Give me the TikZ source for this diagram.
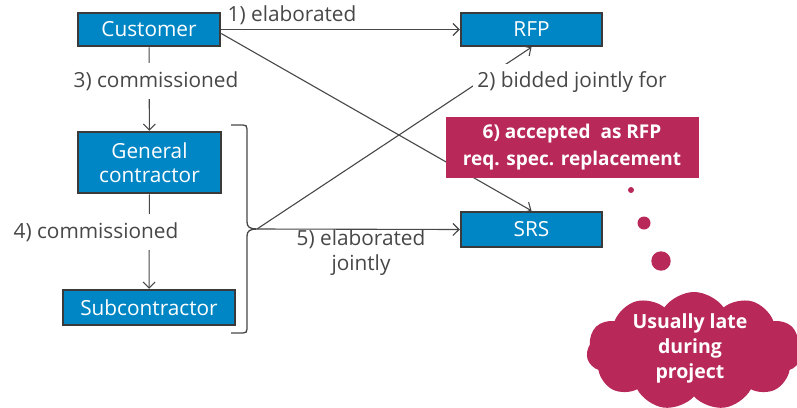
\documentclass[tikz,border=0pt]{standalone}
\usepackage{fontspec}
\setmainfont{Open Sans}
\usetikzlibrary{arrows.meta,shapes.symbols}
\definecolor{dblue}{HTML}{0086C4}
\definecolor{berry}{HTML}{B8295A}
\definecolor{dgray}{HTML}{474747}
\definecolor{bord}{HTML}{3A3A3A}
\begin{document}
\begin{tikzpicture}[x=1pt,y=-1pt,
 box/.style={draw=bord, line width=2.5pt, fill=dblue, text=white, font=\fontsize{20.8}{24}\selectfont, align=center, inner sep=0pt},
 lbl/.style={text=dgray, font=\fontsize{20.8}{25}\selectfont, align=center, inner sep=0pt},
 gap/.style={lbl, fill=white, inner xsep=4pt, minimum height=36pt},
 conn/.style={draw=dgray, line width=1.1pt, -{Straight Barb[length=6pt,width=12pt]}},
 brace/.style={draw=dgray, line width=1.3pt},
 berrybox/.style={fill=berry, text=white, font=\bfseries\fontsize{19}{27}\selectfont, align=center, inner sep=0pt},
]
\useasboundingbox (0,0) rectangle (797,407);
\node[box, minimum width=142pt, minimum height=33pt] (cust) at (149,29.5) {Customer};
\node[box, minimum width=141pt, minimum height=33pt] (rfp) at (531.5,29.5) {RFP};
\node[box, minimum width=143pt, minimum height=61pt] (gc) at (149.5,162.5) {General\\contractor};
\node[box, minimum width=172pt, minimum height=35pt] (sub) at (149,307.5) {Subcontractor};
\node[box, minimum width=141pt, minimum height=35pt] (srs) at (531.5,229.5) {SRS};
\coordinate (tip) at (257,229);

\draw[conn] (cust.east) -- (rfp.west);
\draw[conn] ([yshift=-4pt]cust.east) -- (srs.north);
\draw[conn] (cust) -- (gc);
\draw[conn] (gc) -- (sub);
\draw[conn] (tip) -- (rfp.south);
\draw[conn] (tip) -- (srs.west);
\draw[brace] (231,125) -- (243,125) .. controls (246,125) and (247,126) .. (247,129) -- (247,222) .. controls (247,227) and (250,229) .. (tip) .. controls (250,229) and (247,231) .. (247,236) -- (247,329) .. controls (247,332) and (246,333) .. (243,333) -- (231,333);

\node[lbl] (l1) at (292,15) {1) elaborated};
\node[gap] (l2) at (572,82) {2) bidded jointly for};
\node[gap] (l3) at (156,81) {3) commissioned};
\node[gap] (l4) at (96,232) {4) commissioned};
\node[lbl] (l5) at (361,253) {5) elaborated\\jointly};

\node[berrybox, minimum width=253pt, minimum height=61pt] (acc) at (572,147.5) {6) accepted\ \ as RFP\\req. spec. replacement};

\fill[berry] (631,190) circle (3pt);
\fill[berry] (644,223) circle (6.5pt);
\fill[berry] (661,261) circle (9.7pt);
\node[cloud, cloud puffs=11, cloud puff arc=110, aspect=1.8, fill=berry, minimum width=215pt, minimum height=118pt, inner sep=0pt] (cloud) at (694,351) {};
\node[berrybox, font=\bfseries\fontsize{19.5}{25}\selectfont] (ctext) at (690,348) {Usually late\\during\\project};
\end{tikzpicture}
\end{document}
